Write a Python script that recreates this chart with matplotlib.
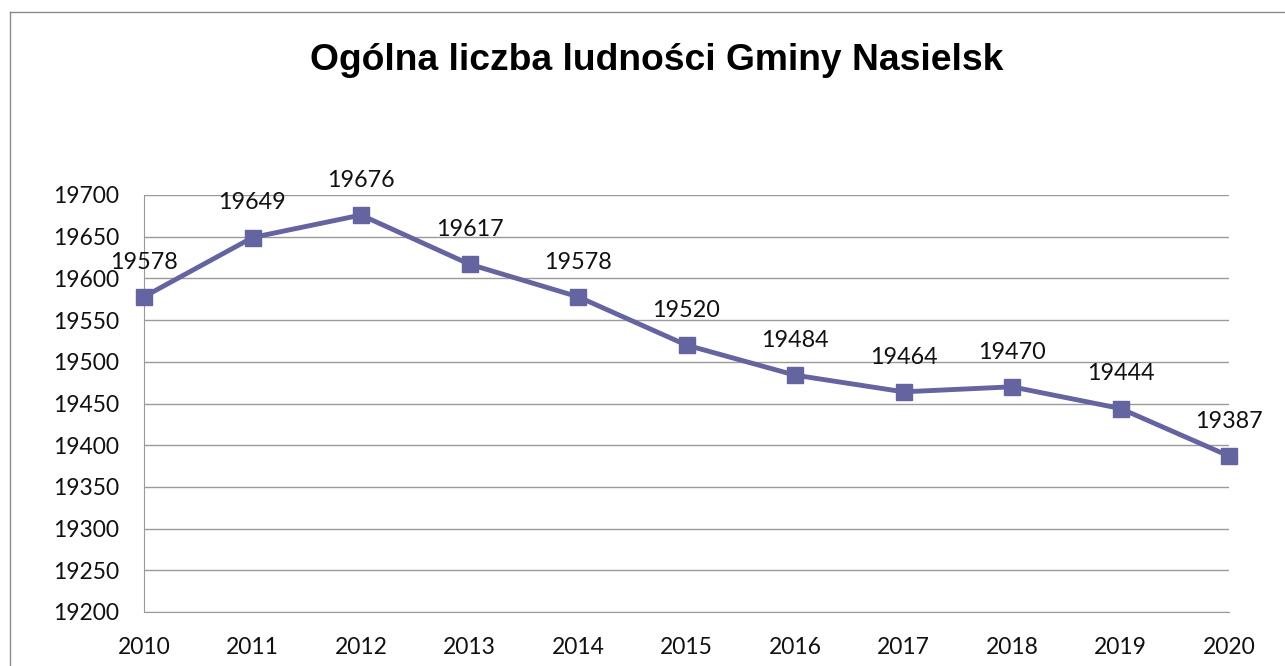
import matplotlib.pyplot as plt
from matplotlib.lines import Line2D

# dane
lata = [2010, 2011, 2012, 2013, 2014, 2015, 2016, 2017, 2018, 2019, 2020]
ludnosc = [19578, 19649, 19676, 19617, 19578, 19520, 19484, 19464, 19470, 19444, 19387]
yticki = [19200, 19250, 19300, 19350, 19400, 19450, 19500, 19550, 19600, 19650, 19700]

kolor = '#6464A0'
W, H = 1285, 666

fig = plt.figure(figsize=(W / 100, H / 100), dpi=100)
ax = fig.add_axes([144 / W, 1 - 612 / H, (1229 - 144) / W, (612 - 195) / H])

ax.plot(lata, ludnosc, color=kolor, linewidth=3.5, marker='s', markersize=11.5,
        clip_on=False, zorder=3)

for x, y in zip(lata, ludnosc):
    ax.annotate(str(y), (x, y), xytext=(0, 25), textcoords='offset points',
                ha='center', va='center', fontsize=16.8, family='Lato', color='#111111')

ax.set_xlim(2010, 2020)
ax.set_ylim(19200, 19700)
ax.set_xticks(lata)
ax.set_yticks(yticki)
ax.tick_params(length=0, labelsize=16.5, colors='#111111')
ax.tick_params(axis='y', pad=18)
ax.tick_params(axis='x', pad=18)
for lab in ax.get_xticklabels() + ax.get_yticklabels():
    lab.set_family('Lato')

ax.grid(axis='y', color='#9a9a9a', linewidth=1)
ax.set_axisbelow(True)
for s in ['top', 'right']:
    ax.spines[s].set_visible(False)
ax.spines['left'].set_color('#9a9a9a')
ax.spines['bottom'].set_color('#9a9a9a')

fig.text(657 / W, 1 - 61 / H, 'Ogólna liczba ludności Gminy Nasielsk',
         ha='center', va='center', fontsize=26.8, fontweight='bold',
         family='Liberation Sans')

# ramka wykresu
fig.add_artist(Line2D([10 / W, 10 / W], [0, 1 - 12 / H], color='#8a8a8a', linewidth=1))
fig.add_artist(Line2D([10 / W, 1], [1 - 12 / H, 1 - 12 / H], color='#8a8a8a', linewidth=1))

fig.savefig('out.png', dpi=100)
